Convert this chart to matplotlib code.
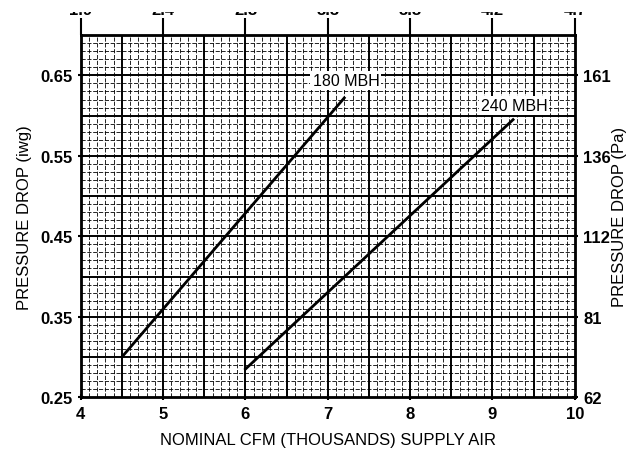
import numpy as np
import matplotlib.pyplot as plt
from matplotlib.patches import Rectangle

plt.rcParams['font.family'] = ['Liberation Sans', 'DejaVu Sans']

# curve end points: CFM (thousands), pressure drop (iwg)
cfm_180 = [4.5, 7.2]
dp_180 = [0.30, 0.622]
cfm_240 = [6.0, 9.25]
dp_240 = [0.285, 0.595]

# tick labels
x_ticks = [4, 5, 6, 7, 8, 9, 10]
top_labels = ['1.9', '2.4', '2.8', '3.3', '3.8', '4.2', '4.7']
y_ticks = [0.25, 0.35, 0.45, 0.55, 0.65]
left_labels = ['0.25', '0.35', '0.45', '0.55', '0.65']
right_labels = ['62', '81', '112', '136', '161']

fig = plt.figure(figsize=(6.31, 4.52), dpi=100)
ax = fig.add_axes([0.128, 0.119, 0.783, 0.801])
ax.set_xlim(4, 10)
ax.set_ylim(0.25, 0.70)

# graph paper grid
for x in np.arange(4.1, 10, 0.1):
    if abs(x * 2 - round(x * 2)) < 1e-6:
        ax.axvline(x, color='black', lw=1.4, zorder=1)
    else:
        ax.axvline(x, color='black', lw=0.6, ls=(0, (5, 2)), zorder=1)
for y in np.arange(0.26, 0.70, 0.01):
    if abs(y * 20 - round(y * 20)) < 1e-6:
        ax.axhline(y, color='black', lw=1.4, zorder=1)
    else:
        ax.axhline(y, color='black', lw=0.6, ls=(0, (5, 2)), zorder=1)

ax.plot(cfm_180, dp_180, color='black', lw=2, zorder=3)
ax.plot(cfm_240, dp_240, color='black', lw=2, zorder=3)
box = dict(facecolor='white', edgecolor='none', pad=1.5)
ax.text(7.22, 0.644, '180 MBH', fontsize=11.5, ha='center', va='center', bbox=box, zorder=4)
ax.text(9.26, 0.613, '240 MBH', fontsize=11.5, ha='center', va='center', bbox=box, zorder=4)

for s in ax.spines.values():
    s.set_linewidth(2)

ax.set_xticks(x_ticks)
ax.set_yticks(y_ticks)
ax.set_yticklabels(left_labels)
ax.tick_params(which='major', length=5, width=1.5, labelsize=12, direction='inout')
for lab in ax.get_xticklabels() + ax.get_yticklabels():
    lab.set_fontweight('bold')
ax.set_xlabel('NOMINAL CFM (THOUSANDS) SUPPLY AIR', fontsize=12, labelpad=8)
ax.set_ylabel('PRESSURE DROP (iwg)', fontsize=12, labelpad=6)

# right axis in Pa
ax2 = ax.twinx()
ax2.set_ylim(ax.get_ylim())
ax2.set_yticks(y_ticks)
ax2.set_yticklabels(right_labels, fontweight='bold')
ax2.tick_params(length=5, width=1.5, labelsize=12, direction='inout')
ax2.set_ylabel('PRESSURE DROP (Pa)', fontsize=12, labelpad=1)

# top axis in m3/s
ax3 = ax.twiny()
ax3.set_xlim(ax.get_xlim())
ax3.set_xticks(x_ticks)
ax3.set_xticklabels(top_labels, fontweight='bold')
ax3.tick_params(length=12, width=1.5, labelsize=12, direction='out', pad=1)

# scan crop at the top edge
fig.patches.append(Rectangle((0, 1 - 13 / 452), 1, 13 / 452, transform=fig.transFigure,
                             facecolor='white', edgecolor='none', zorder=10))

fig.savefig('out.png', dpi=100)
